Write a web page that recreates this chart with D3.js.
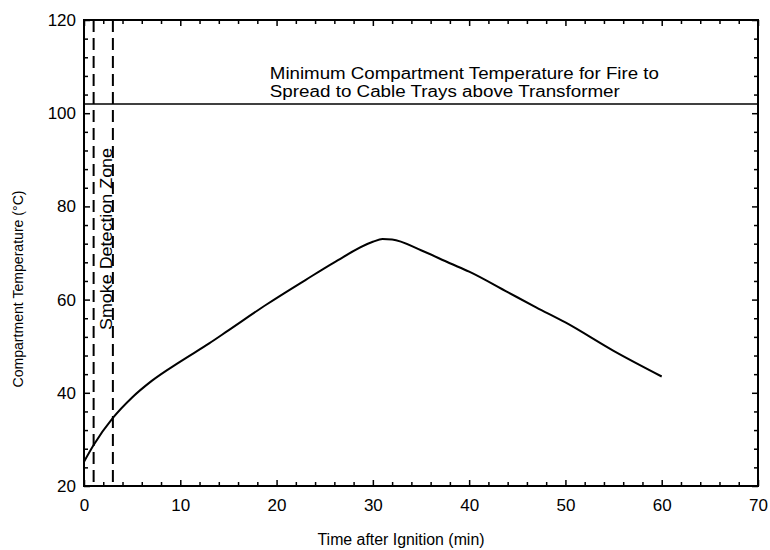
<!DOCTYPE html>
<html>
<head>
<meta charset="utf-8">
<script src="https://cdn.jsdelivr.net/npm/d3@7"></script>
<style>
  body { margin: 0; background: #fff; }
  svg { font-family: "Liberation Sans", Arial, sans-serif; }
  .tick text { font-size: 17px; fill: #000; }
  .tick line { stroke: #000; stroke-width: 1.5; }
</style>
</head>
<body>
<svg id="chart" width="770" height="550"></svg>
<script>
// data
const timeMin = [0, 1, 3, 5, 7, 10, 13, 15, 19, 23, 26, 30, 31, 32, 35, 38, 40, 44, 47, 50, 55, 60];
const tempC   = [25.2, 28.8, 34.6, 39.0, 42.5, 46.7, 50.6, 53.4, 59.0, 64.2, 68.0, 72.4, 73.0, 72.9, 70.6, 67.8, 66.0, 61.6, 58.3, 55.1, 49.0, 43.5];
const spreadTemp = 102;
const detectionZone = [1, 3];
const xTicks = [0, 10, 20, 30, 40, 50, 60, 70];
const yTicks = [20, 40, 60, 80, 100, 120];
const noteLines = ["Minimum Compartment Temperature for Fire to", "Spread to Cable Trays above Transformer"];
const noteWidths = [389, 350];

const margin = {top: 20, right: 12, bottom: 64, left: 84};
const width = 770, height = 550;

const svg = d3.select("#chart");
const x = d3.scaleLinear().domain([0, 70]).range([margin.left, width - margin.right]);
const y = d3.scaleLinear().domain([20, 120]).range([height - margin.bottom, margin.top]);

const xMinor = d3.range(0, 71, 2).filter(v => v % 10 != 0);
const yMinor = d3.range(20, 121, 4).filter(v => v % 20 != 0);

// axes, ticks point inward on all four sides
const b = height - margin.bottom, t = margin.top, l = margin.left, r = width - margin.right;

svg.append("g").attr("transform", `translate(0,${b})`)
  .call(d3.axisBottom(x).tickValues(xTicks).tickSize(-6).tickPadding(13).tickFormat(d3.format("d")));
svg.append("g").attr("transform", `translate(0,${b})`)
  .call(d3.axisBottom(x).tickValues(xMinor).tickSize(-4).tickFormat(""));
svg.append("g").attr("transform", `translate(0,${t})`)
  .call(d3.axisTop(x).tickValues(xTicks).tickSize(-6).tickFormat(""));
svg.append("g").attr("transform", `translate(0,${t})`)
  .call(d3.axisTop(x).tickValues(xMinor).tickSize(-4).tickFormat(""));

svg.append("g").attr("transform", `translate(${l},0)`)
  .call(d3.axisLeft(y).tickValues(yTicks).tickSize(-6).tickPadding(8).tickFormat(d3.format("d")));
svg.append("g").attr("transform", `translate(${l},0)`)
  .call(d3.axisLeft(y).tickValues(yMinor).tickSize(-4).tickFormat(""));
svg.append("g").attr("transform", `translate(${r},0)`)
  .call(d3.axisRight(y).tickValues(yTicks).tickSize(-6).tickFormat(""));
svg.append("g").attr("transform", `translate(${r},0)`)
  .call(d3.axisRight(y).tickValues(yMinor).tickSize(-4).tickFormat(""));

svg.selectAll(".domain").remove();

svg.append("rect")
  .attr("x", l).attr("y", t).attr("width", r - l).attr("height", b - t)
  .attr("fill", "none").attr("stroke", "#000").attr("stroke-width", 2);

// smoke detection zone
svg.selectAll("line.zone").data(detectionZone).enter()
  .append("line").attr("class", "zone")
  .attr("x1", d => x(d)).attr("x2", d => x(d))
  .attr("y1", t).attr("y2", b)
  .attr("stroke", "#000").attr("stroke-width", 2)
  .attr("stroke-dasharray", "12,6");

svg.append("text")
  .attr("transform", `translate(${x(3) - 1},${y(73)}) rotate(-90)`)
  .attr("text-anchor", "middle")
  .attr("font-size", 17)
  .attr("textLength", 182)
  .attr("lengthAdjust", "spacingAndGlyphs")
  .text("Smoke Detection Zone");

// spread threshold
svg.append("line")
  .attr("x1", l).attr("x2", r)
  .attr("y1", y(spreadTemp)).attr("y2", y(spreadTemp))
  .attr("stroke", "#000").attr("stroke-width", 1.5);

svg.append("g").selectAll("text").data(noteLines).enter()
  .append("text")
  .attr("x", x(19.3))
  .attr("y", (d, i) => 79 + i * 18)
  .attr("font-size", 16)
  .attr("textLength", (d, i) => noteWidths[i])
  .attr("lengthAdjust", "spacingAndGlyphs")
  .text(d => d);

// temperature curve
const line = d3.line()
  .x((d, i) => x(timeMin[i]))
  .y(d => y(d))
  .curve(d3.curveMonotoneX);

svg.append("path")
  .datum(tempC)
  .attr("d", line)
  .attr("fill", "none")
  .attr("stroke", "#000")
  .attr("stroke-width", 2);

// axis titles
svg.append("text")
  .attr("x", 401).attr("y", 545)
  .attr("text-anchor", "middle")
  .attr("font-size", 16)
  .attr("textLength", 167)
  .attr("lengthAdjust", "spacingAndGlyphs")
  .text("Time after Ignition (min)");

svg.append("text")
  .attr("transform", `translate(23,${(t + b) / 2 + 36}) rotate(-90)`)
  .attr("text-anchor", "middle")
  .attr("font-size", 15.5)
  .attr("textLength", 197)
  .attr("lengthAdjust", "spacingAndGlyphs")
  .text("Compartment Temperature (°C)");
</script>
</body>
</html>
